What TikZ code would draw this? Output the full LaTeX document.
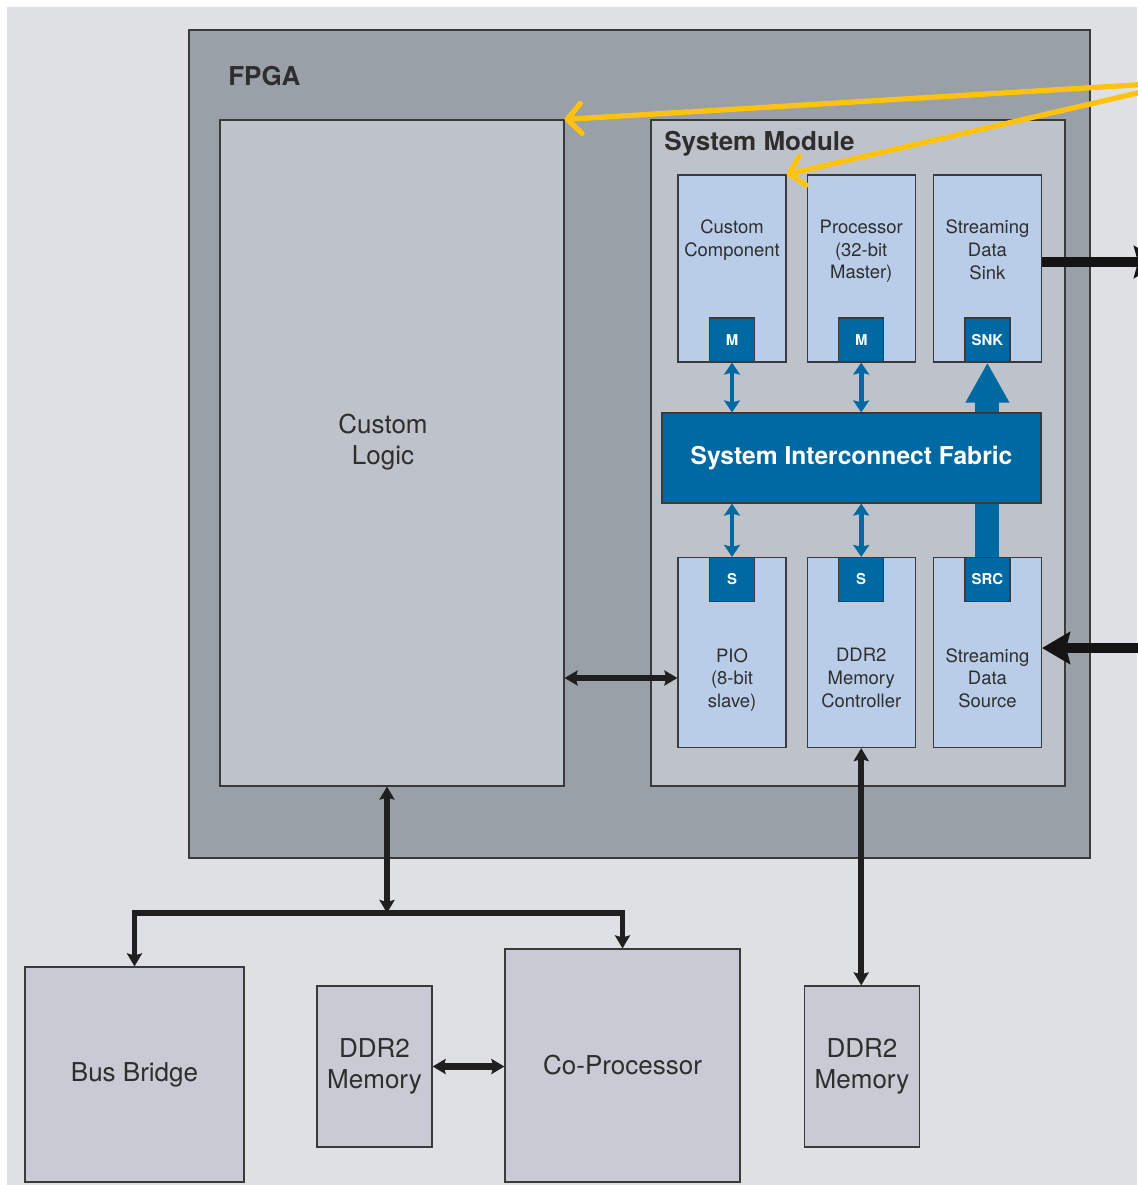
\documentclass[tikz,border=0pt]{standalone}
\usepackage{fontspec}
\setmainfont{TeX Gyre Heros}
\usetikzlibrary{positioning,arrows.meta}

\definecolor{bgcol}{HTML}{DFE0E4}
\definecolor{fpgacol}{HTML}{9AA0A8}
\definecolor{innercol}{HTML}{BEC2CA}
\definecolor{compcol}{HTML}{B9CDE9}
\definecolor{portcol}{HTML}{0069A1}
\definecolor{extcol}{HTML}{C8CBD3}
\definecolor{edgecol}{HTML}{3A3A3A}
\definecolor{txtcol}{HTML}{2E2E2E}
\definecolor{calloutcol}{HTML}{FFC20E}

\tikzset{
  panel/.style={draw=edgecol, line width=0.7pt, rectangle, inner sep=0pt},
  fpgabox/.style={panel, fill=fpgacol},
  innerbox/.style={panel, fill=innercol},
  compbox/.style={panel, fill=compcol, minimum width=2.16cm},
  portbox/.style={panel, fill=portcol, text=white, font=\bfseries\fontsize{8.5}{10}\selectfont, minimum width=0.9cm, minimum height=0.88cm},
  comptext/.style={align=center, inner sep=0pt, text=txtcol, font=\fontsize{10.5}{13}\selectfont},
  bigtext/.style={align=center, inner sep=0pt, text=txtcol, font=\fontsize{14.8}{18}\selectfont},
  title/.style={anchor=base west, inner sep=0pt, text=txtcol, font=\bfseries\fontsize{14.8}{18}\selectfont},
  fabricbox/.style={panel, fill=portcol, text=white, font=\bfseries\fontsize{14}{17}\selectfont, minimum width=7.58cm, minimum height=1.8cm},
  extbox/.style={panel, fill=extcol, align=center, text=txtcol, font=\fontsize{14.8}{18}\selectfont},
  bluelink/.style={draw=portcol, line width=2.6pt, {Stealth[length=0.24cm,width=0.32cm,inset=0.04cm]}-{Stealth[length=0.24cm,width=0.32cm,inset=0.04cm]}},
  bigblue/.style={draw=portcol, line width=13.6pt, -{Triangle[length=0.8cm,width=0.82cm]}},
  link/.style={draw=black!88, line width=3.4pt, line join=miter},
  tip/.tip={Stealth[length=0.26cm,width=0.3cm,inset=0.04cm]},
  heavy/.style={draw=black!92, line width=6.2pt},
  heavytip/.tip={Stealth[length=0.56cm,width=0.64cm,inset=0.08cm]},
  callout/.style={draw=calloutcol, line width=3pt, line cap=round, -{Straight Barb[round,length=0.28cm,width=0.6cm]}}
}

\begin{document}
\begin{tikzpicture}[x=0.02cm, y=-0.02cm]
\useasboundingbox (0,0) rectangle (1137,1185);
\fill[bgcol] (7,7) rectangle (1137,1185);

\node[fpgabox, minimum width=18.02cm, minimum height=16.56cm] (FPGA) at (639.5,444) {};
\node[title] (FPGALabel) at (228,86) {FPGA};

\node[innerbox, minimum width=6.88cm, minimum height=13.32cm] (CustomLogic) at (392,453) {};
\node[bigtext] (CustomLogicText) at (383,442) {Custom\\Logic};

\node[innerbox, minimum width=8.28cm, minimum height=13.32cm] (SystemModule) at (858,453) {};
\node[title] (SystemModuleLabel) at (664,151) {System Module};

\node[compbox, minimum height=3.74cm] (CustComp) at (732,268.5) {};
\node[compbox, minimum height=3.74cm, right=0.4cm of CustComp] (Processor) {};
\node[compbox, minimum height=3.74cm, right=0.34cm of Processor] (Sink) {};
\node[comptext, below=0.9cm of CustComp.north] (CustCompText) {Custom\\Component};
\node[comptext, below=0.9cm of Processor.north] (ProcessorText) {Processor\\(32-bit\\Master)};
\node[comptext, below=0.9cm of Sink.north] (SinkText) {Streaming\\Data\\Sink};
\node[portbox, above=0pt of CustComp.south] (M1) {M};
\node[portbox, above=0pt of Processor.south] (M2) {M};
\node[portbox, above=0pt of Sink.south] (SNK) {SNK};

\node[compbox, minimum height=3.8cm] (PIO) at (732,652.5) {};
\node[compbox, minimum height=3.8cm, right=0.4cm of PIO] (DDRCtrl) {};
\node[compbox, minimum height=3.8cm, right=0.34cm of DDRCtrl] (Source) {};
\node[comptext, below=1.82cm of PIO.north] (PIOText) {PIO\\(8-bit\\slave)};
\node[comptext, below=1.82cm of DDRCtrl.north] (DDRCtrlText) {DDR2\\Memory\\Controller};
\node[comptext, below=1.82cm of Source.north] (SourceText) {Streaming\\Data\\Source};
\node[portbox, below=0pt of PIO.north] (S1) {S};
\node[portbox, below=0pt of DDRCtrl.north] (S2) {S};
\node[portbox, below=0pt of Source.north] (SRC) {SRC};

\draw[bigblue] (SRC.north) -- (SNK.south);
\node[fabricbox] (Fabric) at (851.5,458) {System Interconnect Fabric};

\node[extbox, minimum width=4.38cm, minimum height=4.3cm] (BusBridge) at (134.5,1074.5) {Bus Bridge};
\node[extbox, minimum width=2.3cm, minimum height=3.22cm] (DDRMemL) at (374.5,1066.5) {DDR2\\Memory};
\node[extbox, minimum width=4.7cm, minimum height=4.66cm] (CoProc) at (622.5,1065.5) {Co-Processor};
\node[extbox, minimum width=2.3cm, minimum height=3.22cm] (DDRMemR) at (862,1066.5) {DDR2\\Memory};

\draw[bluelink] (M1.south) -- (M1.south |- Fabric.north);
\draw[bluelink] (M2.south) -- (M2.south |- Fabric.north);
\draw[bluelink] (S1.north) -- (S1.north |- Fabric.south);
\draw[bluelink] (S2.north) -- (S2.north |- Fabric.south);

\coordinate (SinkOut) at (1162,262);
\coordinate (SourceIn) at (1170,648);
\draw[heavy, -heavytip] (Sink.east |- SinkOut) -- (SinkOut);
\draw[heavy, -heavytip] (SourceIn) -- (Source.east |- SourceIn);

\coordinate (PIOIn) at (678,678);
\draw[link, tip-tip] (CustomLogic.east |- PIOIn) -- (PIO.west |- PIOIn);

\coordinate (Bus) at (387,913);
\draw[link, tip-tip] (CustomLogic.south -| Bus) -- (Bus);
\draw[link, -tip] (Bus) -| (BusBridge.north);
\draw[link, -tip] (Bus) -| (CoProc.north);

\draw[link, tip-tip] (DDRCtrl.south) -- (DDRCtrl.south |- DDRMemR.north);
\draw[link, line width=4pt, tip-tip] (DDRMemL.east) -- (CoProc.west |- DDRMemL.east);

\coordinate (Callout) at (1185,82);
\draw[callout] (Callout) -- (CustomLogic.north east);
\draw[callout] (Callout) -- (CustComp.north east);

\end{tikzpicture}
\end{document}
